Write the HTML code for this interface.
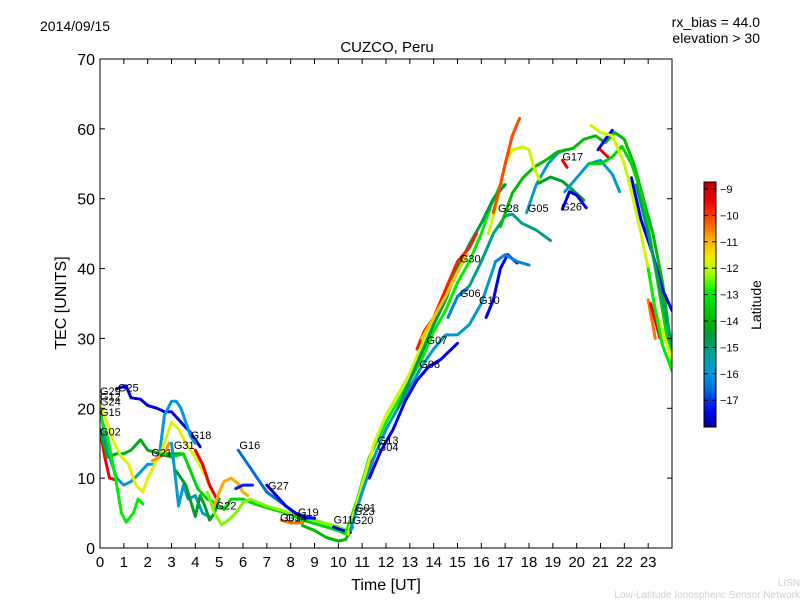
<!DOCTYPE html>
<html><head><meta charset="utf-8">
<style>
body{margin:0;background:#fff;}
svg{display:block;font-family:"Liberation Sans","DejaVu Sans",sans-serif;}
</style></head>
<body>
<svg id="chart" width="800" height="600" viewBox="0 0 800 600">
<rect x="0" y="0" width="800" height="600" fill="#fff"/>
<defs>
<linearGradient id="cb" x1="0" y1="1" x2="0" y2="0">
<stop offset="0" stop-color="#000090"/>
<stop offset="0.06" stop-color="#0000ee"/>
<stop offset="0.15" stop-color="#0066e0"/>
<stop offset="0.22" stop-color="#0099dd"/>
<stop offset="0.29" stop-color="#00a0a0"/>
<stop offset="0.38" stop-color="#009a30"/>
<stop offset="0.44" stop-color="#00bb00"/>
<stop offset="0.55" stop-color="#00ee00"/>
<stop offset="0.63" stop-color="#aaff00"/>
<stop offset="0.69" stop-color="#eeee00"/>
<stop offset="0.77" stop-color="#ffaa00"/>
<stop offset="0.84" stop-color="#ff5500"/>
<stop offset="0.92" stop-color="#ee0000"/>
<stop offset="1" stop-color="#c00000"/>
</linearGradient>
<clipPath id="plotclip"><rect x="100" y="59" width="572" height="489"/></clipPath>
</defs>
<g id="tracks" clip-path="url(#plotclip)"></g>
<g id="axes"></g>
<text x="40" y="31" font-size="14">2014/09/15</text>
<text x="387" y="52" font-size="15" text-anchor="middle">CUZCO, Peru</text>
<text x="760" y="27" font-size="14" text-anchor="end">rx_bias = 44.0</text>
<text x="760" y="43" font-size="14" text-anchor="end">elevation &gt; 30</text>
<text x="386" y="590" font-size="16" text-anchor="middle">Time [UT]</text>
<text x="0" y="0" font-size="16" text-anchor="middle" transform="translate(66,303) rotate(-90)">TEC [UNITS]</text>
<text x="800" y="586" font-size="10" fill="#cfcfcf" text-anchor="end">LISN</text>
<text x="800" y="598" font-size="10" fill="#cfcfcf" text-anchor="end">Low-Latitude Ionospheric Sensor Network</text>
<rect x="704" y="182" width="12" height="245" fill="url(#cb)" stroke="#000" stroke-width="1"/>
<g id="cbticks"></g>
<text x="0" y="0" font-size="14" text-anchor="middle" transform="translate(761,305) rotate(-90)">Latitude</text>
</svg>
<script>
const NS="http://www.w3.org/2000/svg";
const xTicks=[0,1,2,3,4,5,6,7,8,9,10,11,12,13,14,15,16,17,18,19,20,21,22,23];
const yTicks=[0,10,20,30,40,50,60,70];
const cbTicks=[-9,-10,-11,-12,-13,-14,-15,-16,-17];
const trackLat=[-17.6,-16.2,-9.5,-14.3,-13,-11.8,-10.8,-13.5,-9.5,-16,-14.5,-11,-12.5,-17.3,-16.8,-17.5,-17.5,-10.5,-14,-17.5,
-9.5,-13,-12,-16,-17.5,-15.3,-16,-14,-12,-14.5,-17.5,-16,-17.5,-13.5,-12,-9.5,-9.5,-17.5,-15,-10.5,-9.5,-13,-14.8,-16.5,-17.5,-16.5,-9.8,-11.3,-10.2];
const trackPts=[
[[0.7,22.8],[1.1,23.2],[1.3,21.5],[1.7,21.3],[2.0,20.4],[2.4,20],[2.7,19.5],[3.0,19.5],[3.4,18],[3.8,16.5],[4.2,14.5]],
[[0,20],[0.3,14],[0.7,10],[1.0,9],[1.3,9.5],[1.6,10.5],[2.0,12],[2.3,12],[2.5,13.5],[2.7,19],[3.0,21],[3.2,21],[3.4,20],[3.6,18],[3.8,16],[4.0,15]],
[[0,17],[0.2,13],[0.4,10],[0.6,9.8]],
[[0,17],[0.3,13],[0.7,13.5],[1.0,13.5],[1.3,14],[1.7,15.5],[2.0,14],[2.5,13.5],[3.0,13.5],[3.4,13.5]],
[[0,19],[0.3,16],[0.6,11],[0.9,5],[1.1,3.7],[1.4,5],[1.6,7],[1.8,6.3]],
[[0,20.5],[0.3,18],[0.6,15],[0.9,13],[1.2,12],[1.5,9],[1.8,8],[2.0,10],[2.3,12],[2.6,14],[2.9,17],[3.0,18],[3.3,17],[3.6,15],[4.0,13],[4.4,10.5],[4.7,8]],
[[2.2,12.5],[2.5,13],[2.7,13.5],[2.9,15]],
[[2.5,13.5],[3.0,13],[3.5,13.5],[3.8,11],[4.1,8.5],[4.5,7],[4.8,6.5],[5.2,5.5],[5.5,7],[6,7],[6.5,6.3],[7,5.8],[7.5,5.3],[8,4.8],[8.5,4],[9,3.5],[9.5,3],[10,2.5],[10.3,2]],
[[4.0,14],[4.3,12],[4.6,9],[4.9,7]],
[[3.0,15],[3.2,9],[3.3,6],[3.5,9],[3.7,7],[4,7.5],[4.3,5],[4.6,4.5]],
[[3.2,11],[3.6,9],[4.0,4.5],[4.2,7.5],[4.4,6],[4.6,4],[4.8,5],[5.0,7]],
[[4.8,6],[5.0,8],[5.2,9.5],[5.5,10],[5.8,9.2],[6.0,8],[6.2,7.5]],
[[4.5,8],[4.8,5],[5.1,3.3],[5.4,4],[5.7,5],[6,6.5],[6.3,7],[7,6],[8,5],[9,4],[10,3],[10.4,2.5]],
[[5.7,8.5],[6.0,9],[6.4,9]],
[[5.8,14],[6.2,12],[6.6,10],[7.0,8],[7.4,7],[7.8,6],[8.2,5],[8.7,4.5],[9.0,4.2]],
[[7.0,9],[7.4,7.5],[7.8,6],[8.2,5]],
[[8.2,5],[8.6,4.3],[9.0,4.3]],
[[7.6,4],[8,3.6],[8.5,3.6]],
[[8.5,3.2],[9,2.5],[9.5,1.5],[10,1],[10.3,1.2],[10.6,3]],
[[9.8,3],[10.2,2.5],[10.5,2.2]],
[[10.4,2],[10.8,6],[11.2,11],[11.5,13]],
[[10.3,2],[10.8,7],[11.3,13],[12,18],[12.5,21],[13,24],[13.5,27],[14,31],[14.5,34],[15,38],[15.5,41],[16,45],[16.4,49],[16.8,52],[17,52]],
[[10.4,2],[11,9],[11.5,15],[12,19],[12.5,22],[13,25],[13.5,29],[14,33],[14.5,36],[15,40],[15.3,42]],
[[10.5,2.5],[11,8],[11.5,13],[12,17],[12.5,20],[13,23],[13.5,26],[14,28.5],[14.5,30.5],[15,30.5],[15.5,32],[16,35],[16.3,38],[16.6,41]],
[[11.3,10],[11.8,14],[12.3,17],[12.8,21],[13.3,24],[13.8,26],[14.3,27],[14.6,28],[15,29.3]],
[[15,36],[15.5,37.5],[16,41],[16.5,45],[17,47.5],[17.3,47.8],[17.7,46.5],[18.3,45.5],[18.9,44]],
[[17.9,48],[18.3,52],[18.8,55],[19.2,56.5],[19.5,57]],
[[16.8,46],[17.3,50.8],[17.75,53],[18.2,54.5],[18.7,55.5],[19.2,56.7],[19.85,57.2],[20.3,58.5],[20.8,59],[21.2,58],[21.6,59.5],[22,58.5],[22.4,55],[22.8,50],[23.2,45],[23.6,38],[24,28]],
[[16.3,45],[16.7,50],[17.0,55],[17.3,57],[17.75,57.4],[18.0,57],[18.2,54.5],[18.5,52.3]],
[[18.4,52.2],[18.9,53.1],[19.4,52.5],[19.85,51.2],[20.3,49.8]],
[[19.4,48.5],[19.7,51],[20.0,50.5],[20.4,48.7]],
[[19.5,51],[20,53],[20.5,55],[21,55.5],[21.5,53.5],[21.8,51]],
[[20.9,57],[21.2,58.5],[21.5,59.8]],
[[20.5,55],[21,55],[21.5,56],[21.9,57.5],[22.3,55],[22.7,51],[23.1,44],[23.5,36],[23.8,30],[24,26.5]],
[[20.6,60.5],[21,59.5],[21.5,59],[22,55],[22.3,51],[22.7,45],[23,40],[23.3,34],[23.7,30],[24,27]],
[[19.4,55.5],[19.6,54.5]],
[[21,57],[21.3,56]],
[[22.3,53],[22.7,47],[23.2,42],[23.6,37],[24,34]],
[[22.5,52],[23,45],[23.5,37],[24,29]],
[[23.0,35.5],[23.3,30]],
[[23.1,35],[23.5,30]],
[[23.0,40],[23.3,34],[23.6,29],[24,25.4]],
[[12.5,20],[13,24],[13.5,28],[14,32],[14.5,35.5],[15,40],[15.5,43.5],[16,46.5],[16.5,50],[17,52]],
[[14.6,33],[15,36],[15.4,37]],
[[16.2,33],[16.5,35.5],[16.8,40],[17.1,42],[17.5,40.8]],
[[16.6,41],[17.0,42],[17.5,41],[18,40.5]],
[[13.3,28.5],[13.6,31],[14.0,33],[14.5,37],[15,41],[15.5,43],[15.8,45]],
[[13.5,30],[14,33],[14.5,36],[15,39.5],[15.4,42]],
[[16.5,48],[16.8,52],[17.0,55],[17.3,59],[17.6,61.5]]
];
const labelNames=["G29","G12","G24","G25","G15","G02","G21","G31","G18","G16","G27","G22","G03","G14","G19","G11","G20","G01","G23","G13","G04","G08","G07","G06","G10","G30","G28","G05","G17","G26"];
const labelT=[0,0,0,0.75,0,0,2.15,3.1,3.8,5.85,7.05,4.85,7.55,7.8,8.3,9.8,10.6,10.7,10.65,11.65,11.65,13.4,13.7,15.1,15.9,15.1,16.7,17.95,19.4,19.35];
const labelV=[21.9,21.1,20.4,22.4,18.9,16.1,13.1,14.2,15.6,14.2,8.4,5.5,3.8,3.8,4.6,3.5,3.4,5.2,4.7,14.9,13.9,25.8,29.2,35.9,34.9,40.9,48.1,48.1,55.5,48.3];

const X0=100,X1=672,Y0=548,Y1=59;
const xs=t=>X0+t*(X1-X0)/24;
const ys=v=>Y0-v*(Y0-Y1)/70;
const cbStops=[[-18,[0,0,144]],[-17.5,[0,0,238]],[-16.9,[0,102,224]],[-16.2,[0,153,221]],[-15.5,[0,160,160]],[-14.6,[0,154,48]],[-14,[0,187,0]],[-13,[0,238,0]],[-12.3,[170,255,0]],[-11.7,[238,238,0]],[-11,[255,170,0]],[-10.3,[255,85,0]],[-9.5,[238,0,0]],[-8.7,[192,0,0]]];
function col(l){
  if(l<=cbStops[0][0])return "rgb("+cbStops[0][1]+")";
  for(let i=1;i<cbStops.length;i++){if(l<=cbStops[i][0]){const a=cbStops[i-1],b=cbStops[i],f=(l-a[0])/(b[0]-a[0]);return "rgb("+a[1].map((c,k)=>Math.round(c+f*(b[1][k]-c))).join(",")+")";}}
  return "rgb("+cbStops[cbStops.length-1][1]+")";
}
const tg=document.getElementById("tracks");
trackPts.forEach((pts,i)=>{
  const p=document.createElementNS(NS,"polyline");
  p.setAttribute("points",pts.map(d=>xs(d[0]).toFixed(1)+","+ys(d[1]).toFixed(1)).join(" "));
  p.setAttribute("fill","none");p.setAttribute("stroke",col(trackLat[i]));
  p.setAttribute("stroke-width","3");p.setAttribute("stroke-linejoin","round");p.setAttribute("stroke-linecap","round");
  
  
  tg.appendChild(p);
});
labelNames.forEach((n,i)=>{
  const t=document.createElementNS(NS,"text");
  t.setAttribute("x",xs(labelT[i]));t.setAttribute("y",ys(labelV[i]));t.setAttribute("font-size","11");
  t.textContent=n;
  
  
  tg.appendChild(t);
});
const ax=document.getElementById("axes");
function line(x1,y1,x2,y2){const l=document.createElementNS(NS,"line");l.setAttribute("x1",x1);l.setAttribute("y1",y1);l.setAttribute("x2",x2);l.setAttribute("y2",y2);l.setAttribute("stroke","#000");l.setAttribute("stroke-width","1");
  
  
  ax.appendChild(l);}
const frame=document.createElementNS(NS,"rect");
frame.setAttribute("x",X0);frame.setAttribute("y",Y1);frame.setAttribute("width",X1-X0);frame.setAttribute("height",Y0-Y1);
frame.setAttribute("fill","none");frame.setAttribute("stroke","#000");


ax.appendChild(frame);
xTicks.forEach(t=>{
  const x=xs(t);line(x,Y0,x,Y0-5);line(x,Y1,x,Y1+5);
  const tx=document.createElementNS(NS,"text");tx.setAttribute("x",x);tx.setAttribute("y",Y0+19);tx.setAttribute("font-size","15");tx.setAttribute("text-anchor","middle");tx.textContent=t;
  
  
  ax.appendChild(tx);
});
yTicks.forEach(v=>{
  const y=ys(v);line(X0,y,X0+5,y);line(X1,y,X1-5,y);
  const tx=document.createElementNS(NS,"text");tx.setAttribute("x",X0-5);tx.setAttribute("y",y+6);tx.setAttribute("font-size","16");tx.setAttribute("text-anchor","end");tx.textContent=v;
  
  
  ax.appendChild(tx);
});
const cg=document.getElementById("cbticks");
cbTicks.forEach(v=>{
  const y=189+(-9-v)*26.4;
  const l=document.createElementNS(NS,"line");l.setAttribute("x1",704);l.setAttribute("x2",708);l.setAttribute("y1",y);l.setAttribute("y2",y);l.setAttribute("stroke","#000");
  
  
  cg.appendChild(l);
  const l2=document.createElementNS(NS,"line");l2.setAttribute("x1",712);l2.setAttribute("x2",716);l2.setAttribute("y1",y);l2.setAttribute("y2",y);l2.setAttribute("stroke","#000");
  
  
  cg.appendChild(l2);
  const tx=document.createElementNS(NS,"text");tx.setAttribute("x",720);tx.setAttribute("y",y+4);tx.setAttribute("font-size","11");tx.textContent="\u2212"+Math.abs(v);
  
  
  cg.appendChild(tx);
});
</script>
</body></html>
